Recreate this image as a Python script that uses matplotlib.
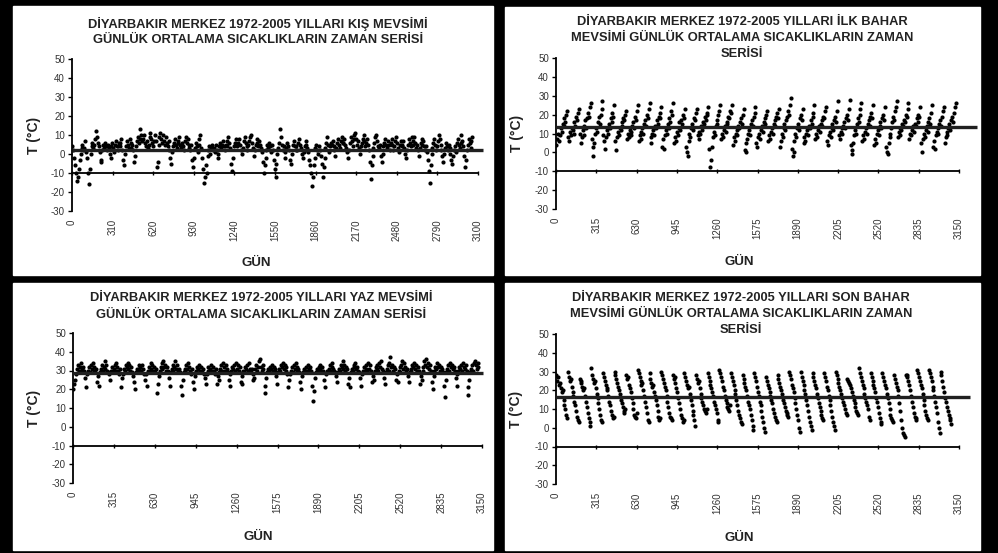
# ========================================================
# DIYARBAKIR MEVSIMLIK SICAKLIK ZAMAN SERILERI
# ========================================================
import numpy as np
import matplotlib
matplotlib.use('Agg')
import matplotlib.pyplot as plt
from matplotlib.patches import Rectangle

plt.rcParams['font.family'] = ['Liberation Sans', 'DejaVu Sans']
plt.rcParams['axes.unicode_minus'] = False

# --------------------------------------------------------
# VERI: her satir bir yil, her deger yaklasik bir haftalik okuma
# --------------------------------------------------------
kis_sicaklik = [
    [4, 2, -2, -6, -10, -14, -12, -8, -3, 0, 3, 5, 2],
    [3, 7, 1, -2, -10, -16, -8, 0, 4, 6, 3, 5, 8],
    [12, 9, 6, 4, 1, -3, -4, 2, 5, 3, 6, 4, 2],
    [5, 3, 0, -2, 4, 6, 3, 1, 5, 7, 4, 2, 6],
    [6, 4, 8, 2, -3, -6, 0, 4, 7, 5, 3, 8, 6],
    [3, 5, 2, -4, -1, 4, 7, 9, 6, 8, 13, 10, 7],
    [8, 10, 6, 4, 7, 3, 5, 9, 11, 8, 6, 4, 7],
    [10, 7, -7, -4, 5, 9, 11, 8, 6, 10, 7, 5, 9],
    [6, 4, 7, 2, -2, -5, 1, 4, 6, 8, 5, 3, 6],
    [7, 9, 5, 3, 6, 4, 2, 7, 9, 6, 8, 5, 3],
    [2, 5, -3, -7, -2, 3, 6, 4, 1, 5, 8, 10, 3],
    [-2, -8, -15, -12, -6, -10, -1, 2, 4, 0, 3, 5, 2],
    [3, 1, 5, 2, -2, 0, 4, 6, 3, 5, 7, 4, 2],
    [5, 7, 4, 9, 6, 3, -5, -9, -2, 4, 6, 8, 5],
    [4, 6, 8, 5, 2, 0, 3, 7, 9, 6, 4, 2, 5],
    [7, 9, 10, 6, 3, -1, 2, 5, 8, 6, 4, 7, 5],
    [3, 1, -4, -10, -6, -2, 2, 5, 3, 6, 4, 1, 5],
    [2, -3, -8, -12, -5, 0, 3, 6, 13, 9, 5, 2, 4],
    [1, -2, 3, 6, 4, 2, -3, -5, 0, 5, 7, 4, 2],
    [4, 2, 6, 8, 5, 3, 0, -2, 1, 4, 7, 5, 3],
    [1, -3, -6, -10, -17, -12, -6, -2, 3, 5, 2, 0, 4],
    [2, -1, -5, -12, -7, -2, 3, 6, 9, 5, 1, 4, 6],
    [5, 7, 4, 2, -1, 3, 6, 8, 5, 3, 7, 9, 6],
    [6, 8, 5, 3, 1, -2, 2, 6, 9, 7, 4, 8, 10],
    [11, 8, 5, 7, 3, 0, 4, 6, 8, 10, 7, 4, 6],
    [8, 5, 2, -4, -13, -6, -1, 3, 6, 9, 10, 7, 4],
    [3, 5, -1, -4, 0, 4, 6, 8, 5, 3, 7, 5, 2],
    [6, 8, 5, 2, 4, 7, 9, 6, 3, 1, 5, 7, 4],
    [5, 7, 3, 0, -2, 2, 5, 8, 6, 4, 9, 7, 5],
    [9, 6, 3, 5, 2, -1, 3, 6, 8, 5, 7, 4, 2],
    [4, 1, -3, -9, -15, -6, 0, 3, 6, 8, 5, 2, 4],
    [7, 10, 8, 5, 2, -1, -4, 0, 3, 6, 4, 2, 5],
    [3, 0, -3, -5, -1, 2, 4, 1, 6, 8, 5, 3, 6],
    [10, 7, 4, -1, -7, -3, 2, 5, 8, 6, 3, 7, 9],
]

ilkbahar_sicaklik = [
    [4, 7, 10, 6, 9, 13, 11, 15, 14, 18, 16, 20, 22],
    [8, 6, 11, 9, 13, 12, 10, 16, 14, 19, 17, 21, 23],
    [10, 5, 8, 12, 9, 14, 17, 13, 18, 21, 19, 24, 26],
    [7, 3, -2, 5, 10, 13, 11, 16, 19, 15, 20, 23, 27],
    [9, 6, 2, 8, 12, 10, 15, 13, 18, 16, 21, 19, 25],
    [6, 1, 8, 11, 9, 13, 12, 16, 14, 18, 17, 20, 22],
    [7, 10, 8, 12, 11, 9, 14, 16, 13, 19, 17, 22, 25],
    [6, 9, 7, 11, 13, 10, 15, 17, 14, 20, 18, 23, 26],
    [8, 5, 10, 12, 9, 14, 13, 17, 15, 19, 21, 18, 24],
    [3, 7, 2, 9, 12, 10, 15, 13, 18, 16, 22, 20, 26],
    [5, 8, 6, 11, 9, 13, 16, 12, 17, 15, 20, 18, 23],
    [3, 0, -2, 6, 10, 8, 13, 15, 12, 18, 17, 21, 23],
    [9, 7, 11, 10, 14, 12, 16, 15, 19, 17, 21, 20, 24],
    [2, -8, -4, 3, 8, 11, 9, 14, 17, 15, 20, 22, 25],
    [7, 10, 8, 12, 14, 11, 16, 15, 19, 18, 22, 21, 25],
    [4, 8, 6, 10, 12, 9, 14, 13, 16, 18, 15, 20, 23],
    [1, 5, 0, 7, 10, 12, 9, 15, 17, 14, 19, 21, 24],
    [5, 3, 8, 10, 7, 12, 14, 11, 16, 18, 15, 20, 22],
    [6, 9, 7, 11, 13, 10, 15, 17, 14, 19, 21, 18, 23],
    [3, 6, 10, 8, 13, 15, 12, 17, 19, 22, 20, 25, 29],
    [2, -2, 0, 6, 10, 8, 13, 15, 12, 18, 20, 17, 23],
    [5, 8, 6, 10, 12, 9, 14, 13, 17, 15, 19, 21, 25],
    [7, 10, 8, 12, 14, 11, 15, 17, 14, 19, 18, 22, 24],
    [6, 4, 9, 11, 8, 13, 15, 12, 17, 19, 16, 22, 27],
    [9, 7, 11, 13, 10, 14, 16, 13, 18, 20, 17, 23, 28],
    [4, 1, -1, 5, 9, 12, 10, 15, 18, 16, 20, 23, 26],
    [6, 9, 7, 11, 13, 10, 15, 17, 14, 19, 21, 18, 25],
    [4, 7, 5, 10, 12, 9, 14, 16, 13, 18, 20, 17, 24],
    [3, 0, -1, 5, 10, 8, 13, 16, 19, 17, 22, 24, 27],
    [8, 11, 9, 13, 12, 15, 14, 17, 16, 20, 19, 23, 26],
    [7, 10, 9, 12, 14, 11, 15, 14, 18, 16, 20, 19, 24],
    [5, 0, 7, 10, 8, 12, 14, 11, 16, 18, 15, 21, 25],
    [3, 6, 2, 9, 11, 13, 10, 15, 17, 14, 19, 22, 24],
    [5, 8, 11, 9, 13, 15, 12, 17, 19, 16, 21, 24, 26],
]

yaz_sicaklik = [
    [20, 23, 25, 28, 31, 33, 30, 32, 34, 31, 29, 32, 30],
    [26, 21, 28, 30, 32, 29, 33, 31, 34, 30, 32, 29, 31],
    [24, 27, 22, 29, 31, 33, 30, 32, 35, 31, 33, 30, 29],
    [28, 25, 30, 32, 29, 31, 33, 30, 34, 32, 30, 28, 31],
    [21, 26, 28, 31, 30, 33, 32, 34, 31, 33, 30, 32, 29],
    [27, 24, 20, 29, 31, 30, 33, 31, 32, 30, 33, 31, 28],
    [25, 28, 22, 30, 32, 29, 34, 31, 33, 30, 32, 29, 31],
    [18, 23, 27, 30, 32, 34, 31, 35, 32, 33, 30, 32, 30],
    [26, 22, 29, 31, 30, 33, 32, 35, 31, 33, 30, 31, 29],
    [22, 17, 25, 29, 31, 30, 33, 31, 34, 32, 30, 28, 31],
    [24, 20, 27, 30, 29, 32, 31, 33, 30, 32, 29, 31, 28],
    [26, 23, 28, 30, 32, 29, 31, 33, 30, 32, 30, 28, 31],
    [23, 27, 25, 29, 31, 33, 30, 34, 32, 30, 33, 31, 29],
    [25, 22, 28, 30, 32, 31, 33, 30, 34, 31, 33, 30, 32],
    [24, 27, 23, 30, 29, 32, 31, 33, 30, 34, 31, 29, 31],
    [25, 28, 26, 31, 33, 30, 32, 35, 36, 32, 30, 33, 31],
    [22, 18, 26, 29, 31, 30, 32, 31, 33, 30, 32, 29, 31],
    [27, 23, 29, 31, 30, 33, 32, 34, 31, 33, 30, 32, 28],
    [21, 25, 28, 30, 32, 29, 33, 31, 34, 30, 32, 31, 29],
    [24, 20, 27, 29, 31, 30, 32, 30, 33, 31, 29, 32, 30],
    [22, 14, 19, 26, 29, 31, 30, 32, 33, 31, 29, 32, 30],
    [25, 21, 28, 30, 29, 31, 33, 30, 32, 34, 31, 30, 29],
    [27, 24, 29, 31, 30, 33, 32, 35, 31, 33, 30, 32, 31],
    [23, 26, 21, 29, 31, 30, 33, 32, 34, 31, 32, 30, 29],
    [26, 22, 28, 30, 32, 29, 31, 33, 30, 34, 31, 33, 30],
    [24, 27, 25, 30, 32, 31, 33, 30, 34, 32, 35, 31, 30],
    [26, 23, 29, 31, 33, 30, 34, 37, 32, 33, 30, 32, 31],
    [25, 28, 24, 30, 32, 29, 33, 35, 31, 34, 32, 30, 31],
    [27, 24, 29, 31, 30, 33, 32, 34, 31, 33, 30, 32, 30],
    [23, 27, 25, 30, 32, 35, 33, 36, 32, 34, 31, 33, 30],
    [24, 20, 27, 30, 32, 31, 34, 32, 33, 30, 32, 31, 29],
    [22, 16, 25, 29, 31, 33, 30, 34, 32, 33, 31, 32, 30],
    [26, 22, 28, 30, 32, 31, 33, 30, 34, 32, 31, 33, 30],
    [21, 17, 25, 29, 31, 33, 30, 34, 35, 33, 31, 34, 32],
]

sonbahar_sicaklik = [
    [28, 25, 27, 23, 24, 21, 19, 20, 15, 12, 10, 7, 5],
    [30, 27, 25, 26, 22, 19, 17, 14, 12, 9, 6, 4, 3],
    [26, 24, 25, 22, 20, 21, 17, 14, 11, 8, 5, 3, 1],
    [32, 28, 26, 24, 25, 21, 18, 16, 13, 10, 7, 4, 3],
    [29, 27, 25, 23, 20, 21, 17, 14, 12, 9, 7, 5, 6],
    [30, 28, 26, 24, 22, 20, 18, 15, 13, 11, 9, 8, 10],
    [28, 26, 27, 23, 21, 19, 16, 13, 10, 7, 6, 5, 8],
    [31, 29, 27, 25, 23, 24, 20, 17, 14, 11, 8, 4, 3],
    [29, 26, 24, 22, 23, 19, 17, 15, 12, 9, 6, 4, 5],
    [30, 28, 26, 24, 22, 20, 17, 14, 11, 8, 6, 5, 4],
    [28, 26, 27, 24, 21, 19, 16, 13, 10, 7, 5, 3, 4],
    [29, 27, 25, 23, 21, 22, 18, 15, 12, 9, 7, 4, 1],
    [28, 26, 24, 25, 21, 18, 16, 14, 12, 10, 9, 8, 10],
    [29, 27, 25, 23, 21, 19, 17, 14, 12, 10, 8, 4, 3],
    [31, 29, 27, 25, 22, 20, 17, 15, 13, 11, 10, 9, 12],
    [29, 27, 25, 23, 20, 18, 15, 12, 9, 7, 5, 3, 2],
    [28, 26, 24, 22, 20, 17, 14, 12, 10, 7, 4, 1, -1],
    [29, 27, 25, 22, 19, 17, 14, 12, 9, 6, 3, 0, -2],
    [27, 25, 23, 21, 19, 17, 15, 13, 10, 8, 6, 4, 3],
    [28, 26, 24, 22, 20, 18, 15, 13, 11, 9, 8, 7, 6],
    [30, 28, 26, 23, 21, 19, 16, 13, 10, 7, 4, 0, -2],
    [30, 27, 25, 23, 20, 18, 15, 12, 9, 6, 3, 1, -1],
    [29, 27, 25, 23, 21, 18, 16, 13, 11, 9, 7, 5, 4],
    [29, 27, 25, 22, 20, 17, 15, 12, 9, 6, 3, 1, -1],
    [30, 28, 26, 24, 22, 20, 18, 16, 14, 12, 10, 8, 7],
    [26, 25, 24, 23, 21, 19, 17, 15, 13, 11, 9, 8, 7],
    [32, 29, 27, 25, 23, 21, 18, 16, 14, 12, 10, 6, 4],
    [29, 27, 25, 23, 21, 19, 16, 14, 11, 8, 5, 3, 2],
    [29, 27, 25, 23, 21, 18, 16, 13, 10, 7, 5, 4, 3],
    [28, 26, 24, 22, 20, 17, 13, 9, 4, 0, -3, -4, -5],
    [28, 27, 28, 25, 23, 20, 17, 14, 11, 8, 6, 5, 4],
    [31, 29, 27, 25, 23, 21, 18, 15, 12, 9, 7, 5, 4],
    [31, 29, 27, 25, 22, 20, 17, 14, 11, 8, 3, 0, -3],
    [30, 28, 25, 22, 19, 16, 14, 11, 9, 7, 5, 4, 2],
]

mevsim_gun_sayisi = [90, 92, 92, 91]      # kis, ilkbahar, yaz, sonbahar
ortalamalar = [2.0, 13.3, 28.7, 16.6]     # yatay ortalama cizgileri
x_sinirlari = [3100, 3150, 3150, 3150]
x_adimlari = [310, 315, 315, 315]

basliklar = [
    ['DİYARBAKIR MERKEZ 1972-2005 YILLARI KIŞ MEVSİMİ',
     'GÜNLÜK ORTALAMA SICAKLIKLARIN ZAMAN SERİSİ'],
    ['DİYARBAKIR MERKEZ 1972-2005 YILLARI İLK BAHAR',
     'MEVSİMİ GÜNLÜK ORTALAMA SICAKLIKLARIN ZAMAN',
     'SERİSİ'],
    ['DİYARBAKIR MERKEZ 1972-2005 YILLARI YAZ MEVSİMİ',
     'GÜNLÜK ORTALAMA SICAKLIKLARIN ZAMAN SERİSİ'],
    ['DİYARBAKIR MERKEZ 1972-2005 YILLARI SON BAHAR',
     'MEVSİMİ GÜNLÜK ORTALAMA SICAKLIKLARIN ZAMAN',
     'SERİSİ'],
]

# --------------------------------------------------------
# YERLESIM (piksel, sol ust koseden)
# --------------------------------------------------------
W, H = 998, 553
beyaz_alanlar = [(13, 6, 493, 275), (505, 7, 980, 275),
                 (13, 283, 493, 550), (505, 283, 980, 550)]
eksen_alanlari = [(72, 59, 478, 211), (556, 58, 959, 209),
                  (73, 333, 482, 483), (556, 334, 959, 484)]
baslik_x = [258, 742, 261, 741]
baslik_y = [[24, 40], [22, 38, 54], [298, 315], [298, 314, 330]]
etiket_y_x = [34, 517, 34, 516]
gun_konum = [(256, 263), (739, 262), (258, 537), (739, 538)]
cizgi_uzanti = [1.012, 1.045, 1.003, 1.027]


def fx(px):
    return px / W


def fy(py):
    return 1 - py / H


def panel_ciz(fig, i, veri):
    x0, y0, x1, y1 = beyaz_alanlar[i]
    fig.add_artist(Rectangle((fx(x0), fy(y1)), fx(x1 - x0), (y1 - y0) / H,
                             transform=fig.transFigure, color='white', zorder=0))

    a0, b0, a1, b1 = eksen_alanlari[i]
    ax = fig.add_axes([fx(a0), fy(b1), fx(a1 - a0), (b1 - b0) / H])
    ax.set_facecolor('none')

    n = mevsim_gun_sayisi[i]
    veri = np.array(veri, dtype=float)
    yil, hafta = np.meshgrid(np.arange(veri.shape[0]), np.arange(veri.shape[1]), indexing='ij')
    gun = yil * n + 3 + hafta * 7
    ax.plot(gun.ravel(), veri.ravel(), 'o', color='black', ms=3.0, mew=0, zorder=2)

    xmax = x_sinirlari[i]
    ax.plot([0, xmax * cizgi_uzanti[i]], [ortalamalar[i]] * 2, color='#202020',
            lw=2.4, zorder=3, clip_on=False, solid_capstyle='butt')

    ax.set_xlim(0, xmax)
    ax.set_ylim(-30, 50)
    ax.set_yticks(range(-30, 51, 10))
    ax.set_xticks(np.arange(0, xmax + 1, x_adimlari[i]))

    for s in ['top', 'right']:
        ax.spines[s].set_visible(False)
    ax.spines['bottom'].set_position(('data', -10))
    ax.spines['bottom'].set_linewidth(1.3)
    ax.spines['left'].set_linewidth(1.3)
    ax.tick_params(axis='x', direction='inout', length=3, width=1, labelbottom=False)
    ax.tick_params(axis='y', direction='out', length=3, width=1,
                   labelsize=7, labelcolor='#333333', pad=2)

    alt = ax.secondary_xaxis(0)
    alt.set_xticks(np.arange(0, xmax + 1, x_adimlari[i]))
    alt.tick_params(length=0, labelrotation=90, labelsize=7, labelcolor='#333333', pad=6)
    alt.spines['bottom'].set_visible(False)

    for satir, yy in zip(basliklar[i], baslik_y[i]):
        fig.text(fx(baslik_x[i]), fy(yy), satir, ha='center', va='center',
                 fontsize=9.3, fontweight='bold', color='#222222')
    fig.text(fx(etiket_y_x[i]), fy((b0 + b1) / 2), 'T (°C)', rotation=90,
             ha='center', va='center', fontsize=10, fontweight='bold', color='#222222')
    gx, gy = gun_konum[i]
    fig.text(fx(gx), fy(gy), 'GÜN', ha='center', va='center',
             fontsize=9.5, fontweight='bold', color='#222222')


fig = plt.figure(figsize=(W / 100, H / 100), dpi=100, facecolor='black')
for i, veri in enumerate([kis_sicaklik, ilkbahar_sicaklik, yaz_sicaklik, sonbahar_sicaklik]):
    panel_ciz(fig, i, veri)

fig.savefig('out.png', dpi=100, facecolor='black')
